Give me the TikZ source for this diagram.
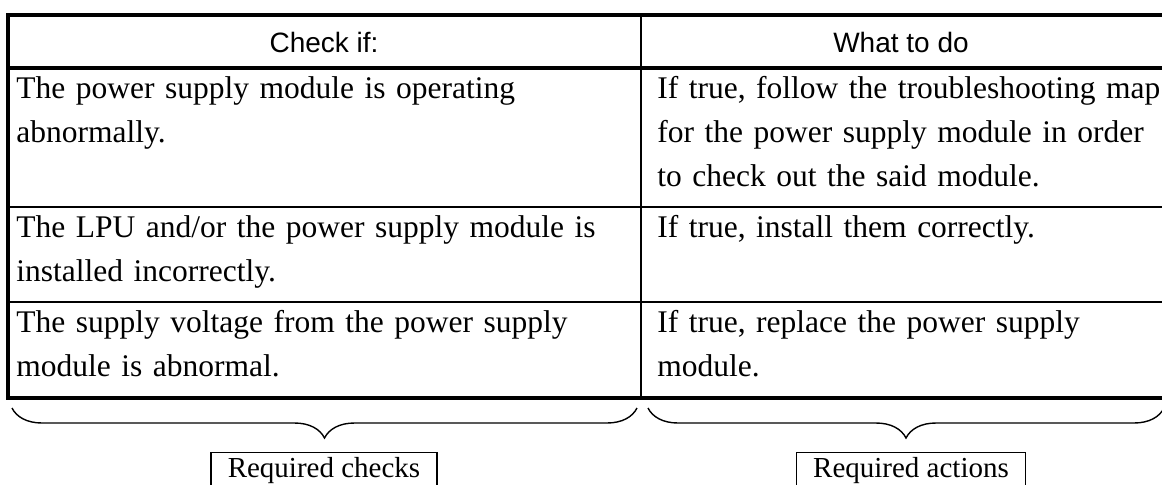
\documentclass[tikz,border=0pt]{standalone}
\usepackage{fontspec}
\setmainfont{Liberation Serif}
\setsansfont{Liberation Sans}
\usetikzlibrary{positioning,decorations.pathreplacing}
\tikzstyle{every cell} = []
\tikzstyle{cell} = [anchor=base west, inner sep=0pt, text width=300pt, align=left,
font=\fontsize{15.75}{22}\selectfont,
every cell]
\tikzstyle{head} = [anchor=base, inner sep=0pt, font=\sffamily\fontsize{14}{16}\selectfont]
\tikzstyle{thick rule} = [line width=2pt, line cap=rect]
\tikzstyle{thin rule} = [line width=1pt]
\tikzstyle{underbrace} = [decorate, decoration={brace, mirror, amplitude=15pt}, line width=0.7pt]
\tikzstyle{tag} = [draw, line width=0.7pt, anchor=north, inner xsep=0pt, inner ysep=3pt,
text height=9.5pt, text depth=4pt, font=\fontsize{14.5}{16}\selectfont]

\begin{document}
\begin{tikzpicture}[x=0.5pt, y=-0.5pt]
	\path[use as bounding box] (0,0) rectangle (1162,484);
	\clip (0,0) rectangle (1162,484);

	% table rules
	\draw[thick rule] (8,15) -- (1175,15);
	\draw[thick rule] (8,68) -- (1175,68);
	\draw[thin rule] (8,207) -- (1175,207);
	\draw[thin rule] (8,302) -- (1175,302);
	\draw[thick rule] (8,398) -- (1175,398);
	\draw[thick rule] (8,15) -- (8,398);
	\draw[thin rule] (641,15) -- (641,398);

	% header
	\node[head] (check) at (324,52) {Check if:};
	\node[head] (todo) at (901,52) {What to do};

	% rows
	\node[cell] (abnormal) at (16,98) {The power supply module is operating\\abnormally.};
	\node[cell] (followmap) at (657,98) {If true, follow the troubleshooting map\\for the power supply module in order\\to check out the said module.};
	\node[cell] (installed) at (16,237) {The LPU and/or the power supply module is\\installed incorrectly.};
	\node[cell] (install) at (657,237) {If true, install them correctly.};
	\node[cell] (voltage) at (16,332) {The supply voltage from the power supply\\module is abnormal.};
	\node[cell] (replace) at (657,332) {If true, replace the power supply\\module.};

	% braces
	\coordinate (checks west) at (12,408);
	\coordinate (checks east) at (637,408);
	\coordinate (actions west) at (648,408);
	\coordinate (actions east) at (1164,408);
	\draw[underbrace] (checks west) -- (checks east);
	\draw[underbrace] (actions west) -- (actions east);

	\node[tag, minimum width=113pt] (checks) at (324,452) {Required checks};
	\node[tag, minimum width=114.5pt] (actions) at (911,452) {Required actions};
\end{tikzpicture}
\end{document}
